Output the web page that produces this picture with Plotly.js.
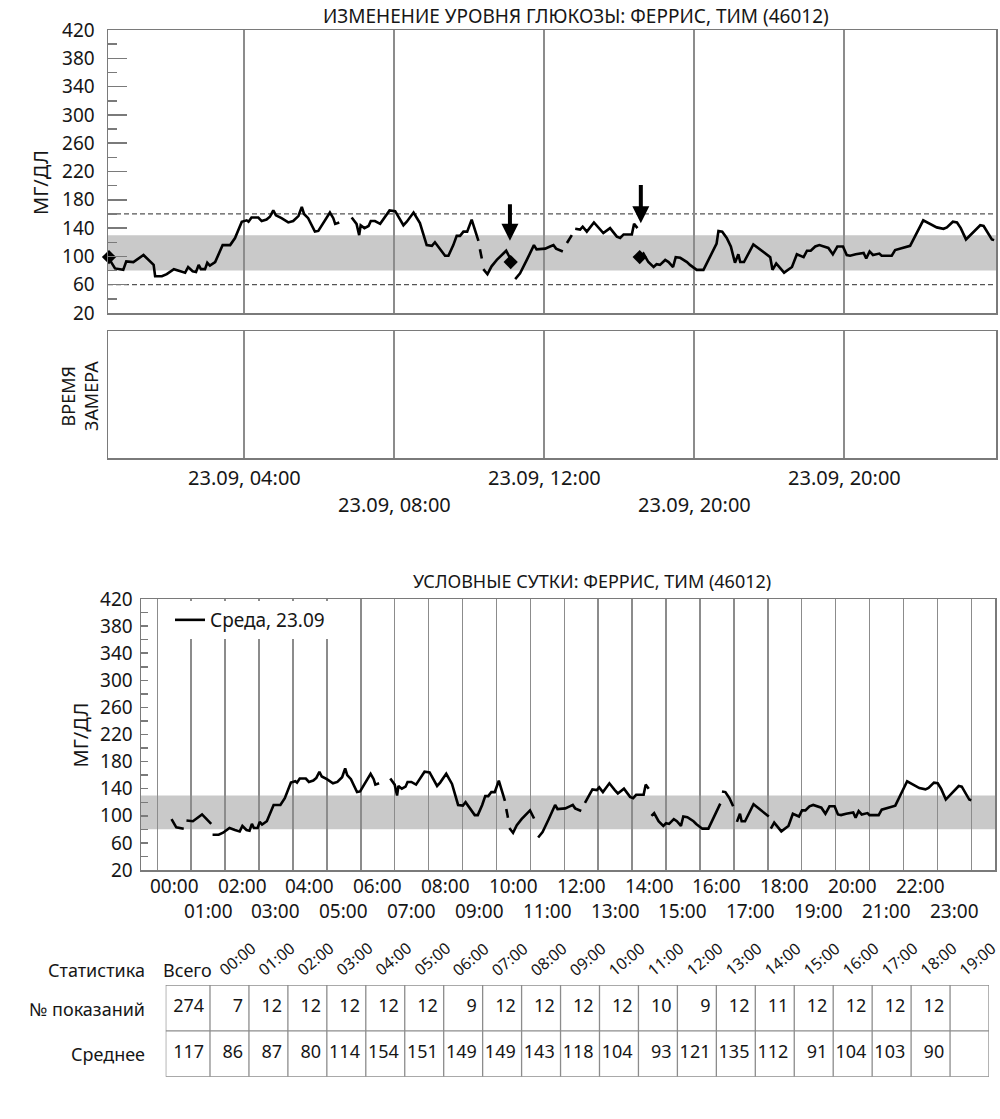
<!DOCTYPE html>
<html>
<head>
<meta charset="utf-8">
<script src="https://cdn.plot.ly/plotly-3.0.1.min.js"></script>
<style>
html,body{margin:0;padding:0;background:#fff;}
#chart{width:1000px;height:1119px;}
</style>
</head>
<body>
<div id="chart"></div>
<script>
// ---------------- DATA ----------------
// Glucose readings, 23.09 (time in hours, mg/dL)
const readTimes = [0.42,0.56,0.78,0.86,1.05,1.32,1.59,1.63,1.81,1.94,2.13,2.29,2.43,2.51,2.63,2.72,2.79,2.85,2.96,3.02,3.09,3.23,3.43,3.63,3.76,3.94,
4.07,4.12,4.20,4.38,4.47,4.60,4.69,4.78,4.85,5.00,5.18,5.31,5.45,5.54,5.60,5.71,5.89,5.98,6.29,6.38,6.43,6.54,
6.87,7.00,7.07,7.11,7.21,7.32,7.38,7.49,7.63,7.88,8.03,8.25,8.34,8.52,8.69,8.87,9.01,9.09,9.36,9.45,9.58,9.67,9.76,9.85,9.95,10.07,10.25,
10.29,10.34,10.38,10.49,10.60,10.74,10.99,11.11,
11.23,11.36,11.54,11.73,11.80,12.03,12.16,12.25,12.32,12.50,
12.61,12.74,12.83,12.96,13.03,13.14,13.33,13.49,13.58,13.76,13.94,14.03,14.12,14.34,14.40,14.49,
14.57,14.65,14.78,14.92,15.00,15.09,15.23,15.32,15.44,15.51,15.63,15.81,15.89,16.07,16.25,16.47,16.60,16.65,16.75,16.87,16.98,
17.09,17.18,17.23,17.33,17.58,18.03,18.09,18.19,18.40,18.61,18.74,18.92,19.01,19.11,19.23,19.34,19.58,19.70,19.82,19.97,
20.07,20.16,20.31,20.43,20.52,20.59,20.68,20.77,20.87,20.94,21.00,21.27,21.36,21.76,22.11,22.25,22.47,22.65,22.74,22.90,23.01,23.11,23.25,23.63,23.72,23.94,24.00];
const readValues = [95,83,81,93,92,102,88,72,72,75,82,79,77,85,79,78,88,82,82,91,87,92,116,116,126,149,
151,149,155,155,150,152,156,165,158,154,148,150,157,170,160,154,135,136,162,154,146,148,
155,146,130,144,140,143,150,150,146,165,164,144,149,162,147,116,115,120,101,101,116,129,129,135,135,152,122,
110,97,82,75,86,95,108,96,
68,76,95,116,110,111,114,116,111,107,
119,130,139,138,142,135,148,138,133,140,128,126,131,131,146,140,
100,104,92,85,89,88,95,92,85,99,98,92,88,81,81,104,118,136,135,126,114,
91,103,92,92,117,99,81,90,77,85,103,99,108,108,114,116,112,103,114,114,
102,101,103,104,105,97,107,102,103,104,101,101,109,115,151,147,141,139,141,149,148,140,124,144,143,124,123];

// Sensor gaps (hours) as drawn in each chart
const topGaps = [6.7,10.27,10.36,11.17,12.55,12.79,14.53];
const modalGaps = [0.82,1.61,6.7,10.27,10.36,11.17,12.55,14.53,16.62,17.03,18.06];

// Event markers (diamonds) and arrows on the trend chart
const eventTimes = [0.40,11.11,14.55];
const eventValues = [99,92,99];
const arrowTimes = [11.09,14.58];
const arrowTips = [122,147];
const arrowTails = [176,203];

// Target range and limits
const targetLow = 80, targetHigh = 130;
const limitLow = 60, limitHigh = 160;

// Axis ticks / labels
const yMajor = [20,60,100,140,180,220,260,300,340,380,420];
const yMinor = [40,80,120,160,200,240,280,320,360,400];
const topTickVals = [4,8,12,16,20];
const topTickLabels = ["23.09, 04:00","23.09, 08:00","23.09, 12:00","23.09, 20:00","23.09, 20:00"];
const modalHours = [0,1,2,3,4,5,6,7,8,9,10,11,12,13,14,15,16,17,18,19,20,21,22,23,24];
const modalLabels = ["00:00","01:00","02:00","03:00","04:00","05:00","06:00","07:00","08:00","09:00","10:00","11:00",
"12:00","13:00","14:00","15:00","16:00","17:00","18:00","19:00","20:00","21:00","22:00","23:00"];

// Statistics table
const statCols = ["00:00","01:00","02:00","03:00","04:00","05:00","06:00","07:00","08:00","09:00",
"10:00","11:00","12:00","13:00","14:00","15:00","16:00","17:00","18:00","19:00"];
const countTotal = 274;
const counts = [7,12,12,12,12,12,9,12,12,12,12,10,9,12,11,12,12,12,12];
const meanTotal = 117;
const means = [86,87,80,114,154,151,149,149,143,118,104,93,121,135,112,91,104,103,90];

// ---------------- BUILD ----------------
const W = 1000, H = 1119;
const PX = v => v / W, PY = v => 1 - v / H;
const FONT = '"Noto Sans", "Open Sans", sans-serif';
const INK = '#161616';
const GRID = '#8c8c8c';

function withGaps(t, v, gaps) {
  const g = gaps.slice().sort((a, b) => a - b);
  const xs = [], ys = [];
  let k = 0;
  for (let i = 0; i < t.length; i++) {
    let brk = false;
    while (k < g.length && g[k] < t[i]) { brk = true; k++; }
    if (brk && i > 0) { xs.push(null); ys.push(null); }
    xs.push(t[i]); ys.push(v[i]);
  }
  return { xs, ys };
}
const topLine = withGaps(readTimes, readValues, topGaps);
const modalLine = withGaps(readTimes, readValues, modalGaps);

const topRange = [0.373, 24.05];
const modalRange = [-0.48, 24.7];

const traces = [
  { x: topLine.xs, y: topLine.ys, xaxis: 'x', yaxis: 'y', type: 'scatter', mode: 'lines',
    line: { color: '#000', width: 2.6 }, connectgaps: false, showlegend: false, hoverinfo: 'skip' },
  { x: eventTimes, y: eventValues, xaxis: 'x', yaxis: 'y', type: 'scatter', mode: 'markers', cliponaxis: false,
    marker: { symbol: 'diamond', size: 11, color: '#000' }, showlegend: false, hoverinfo: 'skip' },
  { x: [], y: [], xaxis: 'x2', yaxis: 'y2', type: 'scatter', mode: 'lines', showlegend: false },
  { x: modalLine.xs, y: modalLine.ys, xaxis: 'x3', yaxis: 'y3', type: 'scatter', mode: 'lines',
    name: 'Среда, 23.09', line: { color: '#000', width: 2.6 }, connectgaps: false, showlegend: true, hoverinfo: 'skip' }
];

// table text
const cellX = [], cellY = [], cellT = [];
cellX.push(-0.15); cellY.push(0.5); cellT.push(String(countTotal));
cellX.push(-0.15); cellY.push(1.5); cellT.push(String(meanTotal));
counts.forEach((c, i) => { cellX.push(i + 1 - 0.15); cellY.push(0.5); cellT.push(String(c)); });
means.forEach((m, i) => { cellX.push(i + 1 - 0.15); cellY.push(1.5); cellT.push(String(m)); });
traces.push({ x: cellX, y: cellY, text: cellT, xaxis: 'x4', yaxis: 'y4', type: 'scatter', mode: 'text',
  textposition: 'middle left', textfont: { family: FONT, size: 18, color: INK }, showlegend: false, hoverinfo: 'skip' });

const firstColW = 1.137;
const shapes = [];
// target band & limits (trend)
shapes.push({ type: 'rect', xref: 'x domain', yref: 'y', x0: 0, x1: 1, y0: targetLow, y1: targetHigh,
  fillcolor: '#c9c9c9', line: { width: 0 }, layer: 'below' });
[limitLow, limitHigh].forEach(v => shapes.push({ type: 'line', xref: 'x domain', yref: 'y', x0: 0, x1: 1, y0: v, y1: v,
  line: { color: '#555', width: 1.2, dash: '5px,3px' }, layer: 'below' }));
// target band (modal day)
shapes.push({ type: 'rect', xref: 'x3 domain', yref: 'y3', x0: 0, x1: 1, y0: targetLow, y1: targetHigh,
  fillcolor: '#c9c9c9', line: { width: 0 }, layer: 'below' });
// table grid
const colEdges = [-firstColW];
for (let i = 0; i <= statCols.length; i++) colEdges.push(i);
colEdges.forEach(e => shapes.push({ type: 'line', xref: 'x4', yref: 'y4', x0: e, x1: e, y0: 0, y1: 2,
  line: { color: GRID, width: 1.3 } }));
[0, 1, 2].forEach(r => shapes.push({ type: 'line', xref: 'x4', yref: 'y4', x0: -firstColW, x1: statCols.length, y0: r, y1: r,
  line: { color: GRID, width: 1.3 } }));

const ann = [];
const txt = (text, x, y, opts) => Object.assign({ text, x, y, xref: 'paper', yref: 'paper', showarrow: false,
  font: { family: FONT, size: 18, color: INK }, xanchor: 'center', yanchor: 'middle' }, opts || {});
const f = s => ({ family: FONT, size: s, color: INK });

ann.push(txt('ИЗМЕНЕНИЕ УРОВНЯ ГЛЮКОЗЫ: ФЕРРИС, ТИМ (46012)', PX(576), PY(1), { yanchor: 'top', font: f(19) }));
ann.push(txt('МГ/ДЛ', PX(40), PY(183), { textangle: -90, font: f(20) }));
ann.push(txt('ВРЕМЯ<br>ЗАМЕРА', PX(79), PY(396), { textangle: -90, font: f(18) }));
topTickVals.forEach((v, i) => ann.push(txt(topTickLabels[i], v, PY(i % 2 === 0 ? 477 : 504), { xref: 'x2', font: f(20) })));

ann.push(txt('УСЛОВНЫЕ СУТКИ: ФЕРРИС, ТИМ (46012)', PX(592), PY(581), { font: f(18) }));
ann.push(txt('МГ/ДЛ', PX(79.5), PY(735), { textangle: -90, font: f(20) }));
modalLabels.forEach((lab, h) => {
  const lo = Math.max(modalHours[h], modalRange[0]);
  const c = (lo + modalHours[h + 1]) / 2;
  ann.push(txt(lab, c, PY(h % 2 === 0 ? 886 : 911), { xref: 'x3', font: f(19) }));
});

// arrows
arrowTimes.forEach((t, i) => ann.push({ x: t, y: arrowTips[i], ax: t, ay: arrowTails[i], xref: 'x', yref: 'y',
  axref: 'x', ayref: 'y', text: '', showarrow: true, arrowhead: 2, arrowsize: 0.85, arrowwidth: 4, arrowcolor: '#000' }));

// table labels
ann.push(txt('Статистика', PX(147), PY(970), { xanchor: 'right', font: f(18) }));
ann.push(txt('№ показаний', PX(147), PY(1009), { xanchor: 'right', font: f(18) }));
ann.push(txt('Среднее', PX(147), PY(1054), { xanchor: 'right', font: f(18) }));
ann.push(txt('Всего', -firstColW / 2, PY(970), { xref: 'x4', font: f(18) }));
statCols.forEach((c, i) => ann.push(txt(c, i + 0.7, PY(959), { xref: 'x4', textangle: -40, font: f(16) })));

const yTickStyle = { tickvals: yMajor, ticktext: yMajor.map(String), ticks: 'inside', tickcolor: '#7a7a7a', tickwidth: 1.5,
  showgrid: false, zeroline: false, showline: true, mirror: true, linecolor: '#7a7a7a', linewidth: 1.5,
  tickfont: f(19), range: [20, 420], fixedrange: true };

const layout = {
  width: W, height: H,
  margin: { l: 0, r: 0, t: 0, b: 0 },
  paper_bgcolor: '#fff', plot_bgcolor: 'rgba(0,0,0,0)',
  font: { family: FONT, color: INK },
  showlegend: true,
  legend: { x: PX(170), y: PY(601), xanchor: 'left', yanchor: 'top', bgcolor: '#fff', borderwidth: 0,
    font: f(19), itemwidth: 30 },
  xaxis: { domain: [PX(108), PX(996)], range: topRange, anchor: 'y', tickvals: topTickVals, showticklabels: false,
    ticks: '', showgrid: true, gridcolor: GRID, gridwidth: 1.3, zeroline: false, showline: true, mirror: true,
    linecolor: '#7a7a7a', linewidth: 1.5 },
  yaxis: Object.assign({}, yTickStyle, { domain: [PY(313), PY(30)], anchor: 'x', ticklen: 19, ticklabelstandoff: 8,
    minor: { tickvals: yMinor, ticks: 'inside', ticklen: 9, tickwidth: 1.5, tickcolor: '#7a7a7a', showgrid: false } }),
  xaxis2: { domain: [PX(108), PX(996)], range: topRange, anchor: 'y2', tickvals: topTickVals, showticklabels: false,
    ticks: '', showgrid: true, gridcolor: GRID, gridwidth: 1.3, zeroline: false, showline: true, mirror: true,
    linecolor: '#7a7a7a', linewidth: 1.5 },
  yaxis2: { domain: [PY(458), PY(331)], range: [0, 1], anchor: 'x2', showticklabels: false, ticks: '', showgrid: false,
    zeroline: false, showline: true, mirror: true, linecolor: '#7a7a7a', linewidth: 1.5 },
  xaxis3: { domain: [PX(141), PX(995)], range: modalRange, anchor: 'y3', tickvals: modalHours, showticklabels: false,
    ticks: '', showgrid: true, gridcolor: GRID, gridwidth: 1.5, zeroline: false, showline: true, mirror: true,
    linecolor: '#7a7a7a', linewidth: 1.5 },
  yaxis3: Object.assign({}, yTickStyle, { domain: [PY(870), PY(599)], anchor: 'x3', ticklen: 7, ticklabelstandoff: 3,
    minor: { tickvals: yMinor, ticks: 'inside', ticklen: 7, tickwidth: 1.5, tickcolor: '#7a7a7a', showgrid: false } }),
  xaxis4: { domain: [PX(165.7), PX(989)], range: [-firstColW, statCols.length], anchor: 'y4', visible: false, fixedrange: true },
  yaxis4: { domain: [PY(1076.7), PY(985)], range: [2, 0], anchor: 'x4', visible: false, fixedrange: true },
  shapes: shapes,
  annotations: ann
};

Plotly.newPlot('chart', traces, layout, { staticPlot: true, displayModeBar: false });
</script>
</body>
</html>
